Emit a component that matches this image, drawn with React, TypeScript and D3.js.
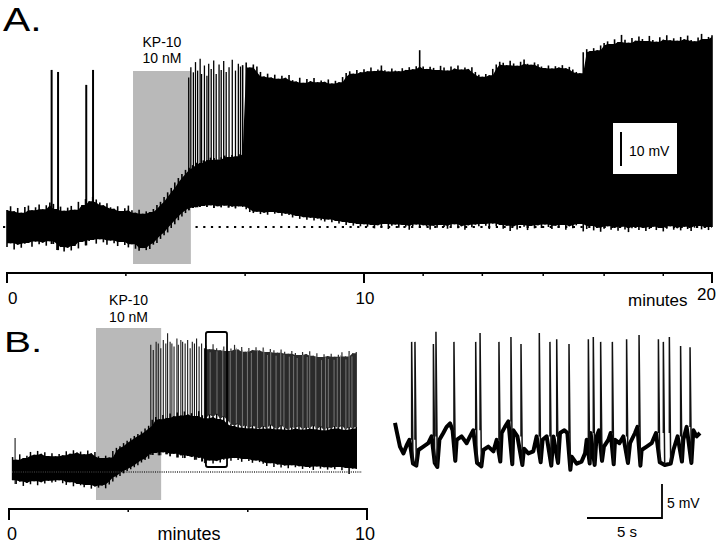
import React from 'react';
import * as d3 from 'd3';

// ---------- panel A : 20 min recording (mV above the dotted baseline) ----------
const aStep = 0.1; // minutes between envelope samples
const aUpper = [
  5.0, 6.1, 4.6, 5.6, 4.2, 5.9, 6.3, 4.9, 5.8, 6.6,
  5.2, 6.4, 7.2, 6.8, 5.3, 6.0, 4.8, 5.7, 6.2, 5.1,
  7.4, 6.5, 8.2, 7.6, 8.9, 8.1, 7.2, 6.4, 7.0, 5.8,
  5.4, 6.1, 4.7, 5.5, 6.3, 4.9, 4.2, 5.1, 3.9, 4.6,
  4.4, 5.3, 6.5, 7.4, 8.8, 10.2, 11.5, 13.1, 14.4, 15.6,
  16.8, 17.4, 18.2, 18.9, 18.8, 19.6, 19.7, 20.4, 20.3, 19.8,
  20.5, 21.0, 20.6, 21.2, 20.8, 21.4, 47.6, 48.4, 46.9, 47.8,
  47.2, 45.6, 44.3, 45.1, 44.0, 44.8, 43.6, 44.5, 43.9, 44.7,
  43.2, 42.8, 43.9, 42.4, 43.5, 42.9, 43.8, 42.6, 43.1, 42.7,
  43.4, 42.2, 43.0, 42.6, 44.1, 45.3, 45.8, 45.1, 46.2, 45.5,
  46.4, 45.8, 46.9, 45.9, 46.3, 47.5, 46.1, 45.7, 46.6, 46.0,
  45.8, 46.7, 46.2, 47.0, 46.4, 47.3, 52.0, 47.2, 46.5, 47.1,
  46.8, 46.2, 47.4, 46.9, 46.0, 47.2, 46.6, 47.5, 46.3, 46.9,
  46.5, 47.0, 45.6, 44.8, 44.2, 45.0, 44.6, 46.5, 47.8, 48.6,
  48.3, 47.6, 48.9, 48.1, 47.4, 48.6, 49.3, 48.0, 47.7, 48.4,
  47.9, 47.2, 46.8, 47.5, 46.6, 47.3, 46.9, 47.6, 46.7, 47.1,
  46.3, 45.6, 45.2, 51.4, 52.3, 51.8, 52.6, 52.0, 53.4, 54.1,
  54.6, 53.8, 55.2, 54.4, 56.5, 55.1, 54.2, 55.6, 54.8, 56.0,
  55.3, 54.7, 56.2, 55.0, 54.5, 55.8, 55.1, 56.4, 54.9, 55.5,
  54.8, 55.9, 55.2, 56.3, 55.0, 54.6, 55.7, 56.8, 55.3, 55.9,
  56.4,
];
const aLower = [
  -5.9, -4.8, -6.6, -5.2, -6.1, -4.9, -4.7, -5.8, -4.3, -5.1,
  -4.6, -5.5, -4.2, -5.0, -6.8, -5.9, -7.2, -6.1, -6.9, -5.6,
  -6.3, -4.4, -5.4, -4.1, -3.8, -4.9, -3.6, -4.5, -5.2, -4.0,
  -4.8, -5.6, -4.4, -5.3, -6.0, -5.1, -6.4, -7.0, -6.2, -6.8,
  -6.5, -5.2, -4.7, -3.5, -2.4, -1.6, -0.3, 0.8, 2.0, 3.1,
  4.1, 4.9, 5.6, 5.8, 5.9, 6.2, 5.9, 6.4, 5.6, 6.1,
  5.8, 6.3, 5.7, 6.0, 5.5, 6.1, 5.9, 5.2, 4.4, 4.1,
  4.5, 3.8, 4.2, 3.6, 4.4, 3.9, 4.1, 3.3, 3.9, 3.5,
  2.8, 3.2, 2.4, 2.9, 2.1, 2.7, 1.9, 2.5, 2.0, 1.6,
  2.2, 1.4, 1.8, 1.0, 1.5, 0.6, 1.2, 0.4, 0.9, 0.2,
  0.8, 0.1, 0.6, -0.4, 0.5, 0.0, 0.9, -0.6, 0.4, 0.7,
  -0.2, 0.6, 0.1, -0.8, 0.3, 0.7, -0.3, 0.5, 0.2, -0.7,
  0.4, -0.2, 0.6, 0.0, -0.5, 0.3, 0.8, -0.4, 0.2, -0.8,
  0.5, -0.1, 0.7, 0.2, 0.9, 0.4, -0.6, 1.0, 0.3, 0.6,
  -0.5, 0.4, -1.2, 0.2, -0.7, 0.6, 0.1, -0.9, 0.3, -0.4,
  0.5, -0.3, 0.7, 0.0, -0.6, 0.4, -0.2, 0.6, -0.8, 0.2,
  -0.4, 0.5, 0.9, -1.3, -0.6, 0.3, -1.0, -0.2, -1.4, -0.5,
  0.2, -0.8, -0.3, -1.1, 0.1, -0.7, -1.5, -0.4, 0.0, -0.9,
  -0.2, -1.2, -0.6, 0.1, -0.9, -0.3, -1.3, -0.5, 0.2, -0.8,
  -0.4, -1.0, 0.1, -0.6, -1.2, -0.2, 0.3, -0.7, -0.1, -0.9,
  0.0,
];
// single action potentials before the firing becomes continuous
const aSpikeTimes = [1.25, 1.43, 2.22, 2.41, 5.09, 5.15, 5.22, 5.28, 5.34, 5.41, 5.45, 5.53, 5.6,
  5.65, 5.72, 5.79, 5.86, 5.94, 6.0, 6.07, 6.14, 6.22, 6.31, 6.4, 6.48, 6.54];
const aSpikePeaks = [46.2, 45.6, 41.8, 46.2, 44.0, 47.0, 45.5, 48.5, 46.0, 49.5, 45.0, 47.5, 44.5,
  48.0, 46.5, 49.0, 45.0, 47.8, 46.2, 48.8, 45.6, 47.0, 49.2, 46.0, 48.0, 47.2];
const aDrug = [3.53, 5.15];
const aMajorTicks = [0, 10, 20];
const aMinorTicks = [3.33, 6.67, 11.7, 13.4, 15.15, 16.9, 18.6];

// ---------- panel B : 10 min recording ----------
const bStart = 0.1;
const bStep = 0.1;
const bUpper = [
  4.4, 3.6, 5.2, 4.1, 4.8, 5.9, 5.1, 6.2, 5.4, 5.8,
  4.7, 5.5, 4.6, 5.3, 4.9, 6.1, 5.4, 6.4, 5.7, 6.0,
  5.2, 6.3, 5.5, 5.9, 4.6, 4.1, 4.8, 4.3, 6.2, 7.1,
  7.6, 8.5, 9.2, 9.9, 10.6, 11.2, 11.9, 12.8, 13.6, 15.4,
  16.2, 15.5, 16.8, 15.9, 17.2, 16.4, 17.5, 16.6, 17.8, 16.9,
  17.3, 16.5, 17.9, 16.7, 15.8, 16.9, 16.2, 17.1, 15.6, 16.4,
  15.2, 14.1, 13.5, 14.3, 13.1, 13.8, 12.9, 13.6, 13.2, 12.7,
  13.5, 12.8, 13.9, 13.1, 12.6, 13.7, 13.0, 12.4, 13.3, 12.9,
  13.6, 12.5, 13.2, 12.8, 13.8, 12.6, 13.4, 12.3, 13.1, 12.7,
  13.5, 12.9, 13.7, 12.4, 13.2, 12.8, 13.4,
];
const bLower = [
  -2.4, -3.5, -2.8, -4.1, -3.2, -3.6, -2.7, -3.9, -3.0, -3.4,
  -2.6, -3.1, -2.9, -2.4, -3.3, -3.8, -3.0, -4.2, -3.5, -3.9,
  -4.5, -3.8, -4.9, -4.3, -4.6, -4.0, -4.8, -3.7, -2.8, -1.6,
  -1.2, -0.4, 0.3, 0.8, 1.4, 2.0, 2.8, 3.5, 3.9, 5.0,
  5.6, 4.9, 5.8, 5.2, 4.6, 5.4, 4.3, 4.9, 4.1, 4.7,
  4.4, 3.6, 4.2, 3.1, 2.6, 3.4, 2.5, 3.2, 2.8, 3.6,
  3.9, 3.3, 4.1, 3.5, 3.0, 3.8, 3.2, 2.7, 3.4, 2.9,
  2.4, 1.8, 2.6, 1.5, 2.2, 1.3, 1.9, 1.1, 2.0, 1.4,
  1.7, 0.9, 1.5, 1.2, 0.6, 1.6, 1.0, 1.4, 0.7, 1.3,
  0.8, 1.5, 0.5, 1.2, -0.6, 1.0, 0.9,
];
const bDenseStart = 5.5;
const bDenseTop = [
  37.2, 36.1, 37.6, 36.4, 35.8,
  36.9, 35.6, 36.3, 37.4, 36.0, 36.8, 35.4, 36.5, 35.9, 36.7,
  35.7, 36.6, 35.3, 36.2, 35.8, 35.1, 36.0, 35.4, 34.8, 35.6,
  35.0, 34.4, 35.3, 34.7, 35.5, 34.2, 34.9, 33.8, 34.6, 34.1,
  34.8, 33.9, 34.5, 35.2, 34.0, 35.6, 34.9, 35.3,
];
// paler gaps between the densely packed spikes
const bGapTimes = [5.62, 5.81, 5.97, 6.18, 6.35, 6.52, 6.66, 6.77, 6.94, 7.12, 7.22, 7.31, 7.46,
  7.59, 7.68, 7.83, 7.95, 8.05, 8.21, 8.33, 8.4, 8.57, 8.73, 8.84, 8.92, 9.08, 9.17, 9.26, 9.41,
  9.5, 9.58];
const bSpikeTimes = [0.17, 3.96, 4.03, 4.11, 4.17, 4.24, 4.31, 4.38, 4.43, 4.5, 4.55, 4.61, 4.69,
  4.73, 4.8, 4.85, 4.92, 4.99, 5.06, 5.12, 5.18, 5.24, 5.31, 5.38, 5.46];
const bSpikePeaks = [10.0, 37.4, 35.9, 38.3, 37.8, 36.4, 38.8, 37.8, 40.8, 38.3, 37.8, 36.9, 39.3,
  37.4, 38.8, 38.3, 37.8, 38.8, 36.4, 38.3, 37.8, 39.3, 36.9, 37.8, 36.4];
const bDrug = [2.43, 4.25];
const bWindow = [5.5, 6.09];
const bMajorTicks = [0, 10];
const bMinorTicks = [3.33, 6.67];

// ---------- expanded trace (seconds, mV above the after-spike trough) ----------
const insetBodyS = [0, 0.1, 0.33, 0.56, 0.78, 0.96, 1.56, 1.89, 2.22, 2.44, 2.96, 3.22, 3.44, 3.67,
  3.84, 4.11, 4.44, 4.78, 5.0, 5.22, 5.89, 6.22, 6.56, 6.78, 7.11, 7.33, 7.56, 7.89, 8.16, 8.6,
  8.89, 9.22, 9.44, 9.84, 10.11, 10.56, 11.0, 11.29, 11.49, 11.78, 12.11, 12.44, 12.67, 12.78,
  13.04, 13.44, 13.6, 13.93, 14.22, 14.38, 14.67, 14.96, 15.22, 15.67, 16.0, 16.16, 16.44, 16.78,
  17.11, 17.4, 18.56, 18.84, 19.22, 19.44, 19.89, 20.11, 20.33];
const insetBodyV = [6.5, 5.4, 3.0, 2.0, 3.2, 4.0, 2.5, 3.0, 3.5, 4.5, 4.0, 5.0, 5.9, 6.4,
  5.4, 4.0, 4.5, 3.5, 4.5, 5.4, 2.5, 3.0, 2.3, 4.0, 5.0, 5.9, 6.7, 5.4, 4.5, 2.7,
  2.0, 2.3, 4.5, 4.0, 4.5, 4.5, 5.0, 5.4, 5.0, 1.5, 0.5, 0.8, 2.0, 4.0,
  5.0, 4.5, 5.4, 3.0, 4.0, 5.0, 4.0, 3.5, 4.5, 3.5, 5.0, 5.9, 2.5, 3.0,
  3.5, 5.0, 2.5, 4.5, 4.0, 5.9, 5.4, 4.5, 5.0];
const insetSpikeS = [1.11, 1.33, 2.56, 2.73, 3.93, 5.38, 5.67, 6.93, 7.73, 8.4, 9.62, 10.33, 10.78,
  11.6, 12.89, 13.22, 13.71, 14.49, 15.44, 16.27, 17.56, 17.89, 18.29, 19.04, 19.67];
const insetSpikePeak = [18.4, 18.4, 18.1, 19.9, 18.4, 18.4, 19.7, 18.4, 19.1, 18.1, 19.7, 18.4, 18.8,
  18.1, 18.8, 19.1, 18.4, 18.4, 18.8, 19.4, 18.8, 18.4, 19.1, 17.8, 17.6];
const insetSpikeTrough = [0.5, 0.2, 0.6, 0.0, 0.9, 0.6, 0.1, 0.8, 0.4, 0.3, 0.7, 0.2, 0.6,
  -0.4, 0.5, 0.3, 0.9, 0.4, 0.6, 0.2, 0.7, 0.3, 0.5, 0.8, 0.6];

const FONT = '"Liberation Sans", Arial, Helvetica, sans-serif';

// inner edge of a noisy band: the smallest excursion among a sample and its neighbours
const innerTop = (arr: number[], i: number) =>
  Math.min(arr[Math.max(0, i - 1)], arr[i], arr[Math.min(arr.length - 1, i + 1)]);
const innerBottom = (arr: number[], i: number) =>
  Math.max(arr[Math.max(0, i - 1)], arr[i], arr[Math.min(arr.length - 1, i + 1)]);

export default function App() {
  const xA = d3.scaleLinear().domain([0, 10, 20]).range([7, 364, 712]);
  const yA = d3.scaleLinear().domain([0, 10]).range([227, 193]);
  const xB = d3.scaleLinear().domain([0, 10]).range([9, 367]);
  const yB = d3.scaleLinear().domain([0, 10]).range([472, 438]);
  const xI = d3.scaleLinear().domain([0, 5]).range([395, 470]);
  const yI = d3.scaleLinear().domain([0, 5]).range([467, 433]);

  const aBody = d3.area<number>()
    .x((_, i) => xA(i * aStep))
    .y0((_, i) => yA(innerBottom(aLower, i)))
    .y1((_, i) => yA(innerTop(aUpper, i)));

  const bBody = d3.area<number>()
    .x((_, i) => xB(bStart + i * bStep))
    .y0((_, i) => yB(innerBottom(bLower, i)))
    .y1((_, i) => yB(innerTop(bUpper, i)));

  const bIdx = (t: number) => Math.max(0, Math.min(bLower.length - 1, Math.round((t - bStart) / bStep)));
  const denseIdx = (t: number) => Math.max(0, Math.min(bDenseTop.length - 1, Math.round((t - bDenseStart) / bStep)));
  const bDenseArea = d3.area<number>()
    .x((_, i) => xB(bDenseStart + i * bStep))
    .y0((_, i) => yB(bUpper[bIdx(bDenseStart + i * bStep)]))
    .y1((_, i) => yB(innerTop(bDenseTop, i)));

  // subthreshold part of the expanded trace: body samples plus the after-spike troughs
  const bodyPts: [number, number][] = [
    ...insetBodyS.map((s, i) => [s, insetBodyV[i]] as [number, number]),
    ...insetSpikeS.map((s, i) => [s + 0.09, insetSpikeTrough[i]] as [number, number]),
  ].sort((p, q) => p[0] - q[0]);
  const insetLine = d3.line<[number, number]>().x((d) => xI(d[0])).y((d) => yI(d[1]));
  const bodyBefore = (s: number) => {
    let v = insetBodyV[0];
    insetBodyS.forEach((b, i) => { if (b < s) v = insetBodyV[i]; });
    return v;
  };

  const aAxisY = 273;
  const bAxisY = 509;

  return (
    <svg width={720} height={543} style={{ position: 'absolute', left: 0, top: 0 }} fontFamily={FONT}>
      <rect width={720} height={543} fill="#fff" />

      {/* ---- A ---- */}
      <text transform="translate(3,31) scale(1.2,1)" fontSize={34}>A.</text>
      <line x1={3} x2={712} y1={yA(0)} y2={yA(0)} stroke="#000" strokeWidth={2} strokeDasharray="2.2 5.5" />
      <rect x={xA(aDrug[0])} width={xA(aDrug[1]) - xA(aDrug[0])} y={71} height={193} fill="#b9b9b9" />
      <text x={(xA(aDrug[0]) + xA(aDrug[1])) / 2} y={47} fontSize={14} textAnchor="middle">KP-10</text>
      <text x={(xA(aDrug[0]) + xA(aDrug[1])) / 2} y={63} fontSize={14} textAnchor="middle">10 nM</text>
      <path d={aBody(aUpper) || ''} fill="#000" />
      {aUpper.map((u, i) => (
        <line key={i} x1={xA(i * aStep)} x2={xA(i * aStep)} y1={yA(aLower[i])} y2={yA(u)}
          stroke="#000" strokeWidth={1.6} />
      ))}
      {aSpikeTimes.map((t, i) => (
        <line key={i} x1={xA(t)} x2={xA(t)} y1={yA(aLower[Math.round(t / aStep)])} y2={yA(aSpikePeaks[i])}
          stroke="#000" strokeWidth={i < 4 ? 2 : 1.3} />
      ))}
      {/* 10 mV scale */}
      <rect x={613} y={123} width={64} height={51} fill="#fff" />
      <line x1={621} x2={621} y1={166} y2={166 - (yA(0) - yA(10))} stroke="#000" strokeWidth={2} />
      <text x={629} y={156} fontSize={14}>10 mV</text>
      {/* time axis */}
      <line x1={xA(0)} x2={xA(20)} y1={aAxisY} y2={aAxisY} stroke="#000" strokeWidth={2} />
      {aMajorTicks.map((t) => (
        <line key={t} x1={xA(t)} x2={xA(t)} y1={aAxisY - 1} y2={aAxisY + 10} stroke="#000" strokeWidth={2} />
      ))}
      {aMinorTicks.map((t) => (
        <line key={t} x1={xA(t)} x2={xA(t)} y1={aAxisY} y2={aAxisY + 3} stroke="#000" strokeWidth={1.5} />
      ))}
      <text x={xA(0) + 1} y={304} fontSize={17}>0</text>
      <text x={xA(10) + 1} y={304} fontSize={17} textAnchor="middle">10</text>
      <text x={xA(20) + 4} y={300} fontSize={17} textAnchor="end">20</text>
      <text x={628} y={306} fontSize={17}>minutes</text>

      {/* ---- B ---- */}
      <text transform="translate(4,352) scale(1.35,1)" fontSize={30}>B.</text>
      <rect x={xB(bDrug[0])} width={xB(bDrug[1]) - xB(bDrug[0])} y={328} height={172} fill="#b9b9b9" />
      <text x={(xB(bDrug[0]) + xB(bDrug[1])) / 2} y={305} fontSize={14} textAnchor="middle">KP-10</text>
      <text x={(xB(bDrug[0]) + xB(bDrug[1])) / 2} y={322} fontSize={14} textAnchor="middle">10 nM</text>
      <path d={bDenseArea(bDenseTop) || ''} fill="#2b2b2b" />
      {bDenseTop.map((v, i) => (
        <line key={i} x1={xB(bDenseStart + i * bStep)} x2={xB(bDenseStart + i * bStep)}
          y1={yB(bUpper[bIdx(bDenseStart + i * bStep)])} y2={yB(v)} stroke="#2b2b2b" strokeWidth={1.2} />
      ))}
      {bGapTimes.map((t, i) => (
        <line key={i} x1={xB(t)} x2={xB(t)} y1={yB(bUpper[bIdx(t)])} y2={yB(bDenseTop[denseIdx(t)]) + 3}
          stroke="#8a8a8a" strokeWidth={0.8} />
      ))}
      {bSpikeTimes.map((t, i) => (
        <line key={i} x1={xB(t)} x2={xB(t)} y1={yB(bLower[bIdx(t)])} y2={yB(bSpikePeaks[i])}
          stroke="#1a1a1a" strokeWidth={1.1} />
      ))}
      <path d={bBody(bUpper) || ''} fill="#000" />
      {bUpper.map((u, i) => (
        <line key={i} x1={xB(bStart + i * bStep)} x2={xB(bStart + i * bStep)} y1={yB(bLower[i])} y2={yB(u)}
          stroke="#000" strokeWidth={1.5} />
      ))}
      <line x1={12} x2={362} y1={yB(0)} y2={yB(0)} stroke="#333" strokeWidth={1.5} strokeDasharray="1 1.2" />
      <rect x={xB(bWindow[0])} width={xB(bWindow[1]) - xB(bWindow[0])} y={332} height={135}
        fill="none" stroke="#000" strokeWidth={1.8} rx={2} />
      <line x1={xB(0)} x2={xB(10)} y1={bAxisY} y2={bAxisY} stroke="#000" strokeWidth={2} />
      {bMajorTicks.map((t) => (
        <line key={t} x1={xB(t)} x2={xB(t)} y1={bAxisY - 1} y2={bAxisY + 11} stroke="#000" strokeWidth={2} />
      ))}
      {bMinorTicks.map((t) => (
        <line key={t} x1={xB(t)} x2={xB(t)} y1={bAxisY} y2={bAxisY + 3} stroke="#000" strokeWidth={1.5} />
      ))}
      <text x={xB(0) - 2} y={540} fontSize={18}>0</text>
      <text x={189} y={540} fontSize={18} textAnchor="middle">minutes</text>
      <text x={xB(10) + 8} y={540} fontSize={18} textAnchor="end">10</text>

      {/* ---- expanded trace ---- */}
      <path d={insetLine(bodyPts) || ''} fill="none" stroke="#000" strokeWidth={4} strokeLinejoin="round" />
      {insetSpikeS.map((s, i) => (
        <path key={i}
          d={`M${xI(s)},${yI(bodyBefore(s))}V${yI(insetSpikePeak[i])}L${xI(s + 0.09)},${yI(insetSpikeTrough[i])}`}
          fill="none" stroke="#111" strokeWidth={1.5} />
      ))}
      <path d={`M${587},${518}H${587 + (xI(5) - xI(0))}V${518 - (yI(0) - yI(5))}`}
        fill="none" stroke="#000" strokeWidth={1.8} />
      <text x={667} y={508} fontSize={14}>5 mV</text>
      <text x={627} y={537} fontSize={15} textAnchor="middle">5 s</text>
    </svg>
  );
}
